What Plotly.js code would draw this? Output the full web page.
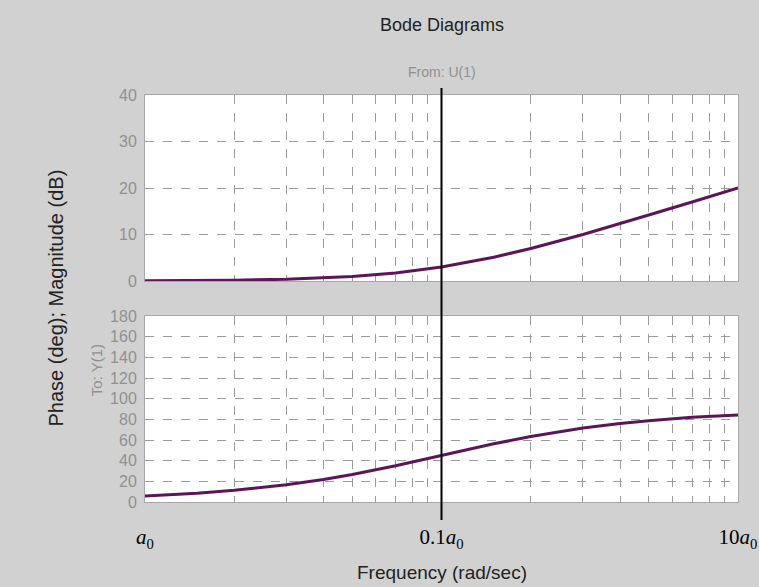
<!DOCTYPE html>
<html>
<head>
<meta charset="utf-8">
<script src="https://cdn.plot.ly/plotly-3.0.1.min.js"></script>
<style>html,body{margin:0;padding:0;background:#d1d1d1;}#chart{width:759px;height:587px;}</style>
</head>
<body>
<div id="chart"></div>
<script>
// Frequencies (rad/sec)
const freq = [0.01, 0.015, 0.02, 0.03, 0.04, 0.05, 0.07, 0.1, 0.15, 0.2, 0.3, 0.4, 0.5, 0.7, 1.0];
// Magnitude (dB)
const magnitude = [0.04, 0.1, 0.17, 0.37, 0.64, 0.97, 1.74, 3.0, 5.1, 7.0, 10.0, 12.3, 14.2, 17.0, 20.0];
// Phase (deg)
const phase = [5.7, 8.5, 11.3, 16.7, 21.8, 26.6, 35.0, 45.0, 56.3, 63.4, 71.6, 76.0, 78.7, 81.9, 84.3];
// Tick labels
const xTickVals = [0.01, 0.1, 1];
const xTickText = ['<i>a</i><sub>0</sub>', '0.1<i>a</i><sub>0</sub>', '10<i>a</i><sub>0</sub>'];

const minorVals = [];
[0.01, 0.1].forEach(d => { for (let k = 2; k <= 9; k++) minorVals.push(k * d); });

const lineStyle = {color: '#5b1657', width: 3};
const gridCol = '#9a9a9a';
const sans = 'Liberation Sans, Arial, sans-serif';
const tickFont = {family: sans, size: 16, color: '#909090'};

const traces = [
  {x: freq, y: magnitude, type: 'scatter', mode: 'lines', line: lineStyle, xaxis: 'x', yaxis: 'y', hoverinfo: 'skip'},
  {x: freq, y: phase, type: 'scatter', mode: 'lines', line: lineStyle, xaxis: 'x2', yaxis: 'y2', hoverinfo: 'skip'}
];

const xBase = {
  type: 'log', range: [-2, 0], showline: true, mirror: true, linecolor: '#a8a8a8', linewidth: 1,
  tickvals: xTickVals, showgrid: false, zeroline: false, ticks: '',
  minor: {tickvals: minorVals, showgrid: true, gridcolor: gridCol, griddash: 'dash', gridwidth: 1, ticks: ''}
};

const layout = {
  width: 759, height: 587,
  paper_bgcolor: '#d1d1d1', plot_bgcolor: '#ffffff',
  margin: {l: 145, r: 21, t: 95, b: 85},
  showlegend: false,
  xaxis: Object.assign({}, xBase, {domain: [0, 1], anchor: 'y', showticklabels: false}),
  yaxis: {domain: [0.543, 1], anchor: 'x', range: [0, 40], dtick: 10, showline: true, mirror: true,
          linecolor: '#a8a8a8', showgrid: true, gridcolor: gridCol, griddash: 'dash', zeroline: false,
          ticks: '', tickfont: tickFont, ticklabelstandoff: 4},
  xaxis2: Object.assign({}, xBase, {domain: [0, 1], anchor: 'y2', showticklabels: true,
          ticktext: xTickText, tickfont: {family: 'Liberation Serif, Times New Roman, serif', size: 21, color: '#000'},
          ticklabelstandoff: 16}),
  yaxis2: {domain: [0, 0.457], anchor: 'x2', range: [0, 180], dtick: 20, showline: true, mirror: true,
          linecolor: '#a8a8a8', showgrid: true, gridcolor: gridCol, griddash: 'dash', zeroline: false,
          ticks: '', tickfont: tickFont, ticklabelstandoff: 4},
  shapes: [
    {type: 'line', xref: 'x2', yref: 'paper', x0: 0.1, x1: 0.1, y0: -0.044, y1: 1.017,
     line: {color: '#000000', width: 2}}
  ],
  annotations: [
    {text: 'Bode Diagrams', xref: 'paper', yref: 'paper', x: 0.5, y: 1 + 70/407, xanchor: 'center', yanchor: 'middle',
     showarrow: false, font: {family: sans, size: 18, color: '#222'}},
    {text: 'From: U(1)', xref: 'paper', yref: 'paper', x: 0.5, y: 1 + 23/407, xanchor: 'center', yanchor: 'middle',
     showarrow: false, font: {family: sans, size: 14, color: '#909090'}},
    {text: 'To: Y(1)', xref: 'paper', yref: 'paper', x: -49/593, y: 0.324, xanchor: 'center', yanchor: 'middle',
     showarrow: false, textangle: -90, font: {family: sans, size: 15, color: '#909090'}},
    {text: 'Phase (deg); Magnitude (dB)', xref: 'paper', yref: 'paper', x: -90/593, y: 0.5, xanchor: 'center', yanchor: 'middle',
     showarrow: false, textangle: -90, font: {family: sans, size: 20, color: '#222'}},
    {text: 'Frequency (rad/sec)', xref: 'paper', yref: 'paper', x: 0.5, y: -70/407, xanchor: 'center', yanchor: 'middle',
     showarrow: false, font: {family: sans, size: 19, color: '#222'}}
  ]
};

Plotly.newPlot('chart', traces, layout, {staticPlot: true, displayModeBar: false});
</script>
</body>
</html>
